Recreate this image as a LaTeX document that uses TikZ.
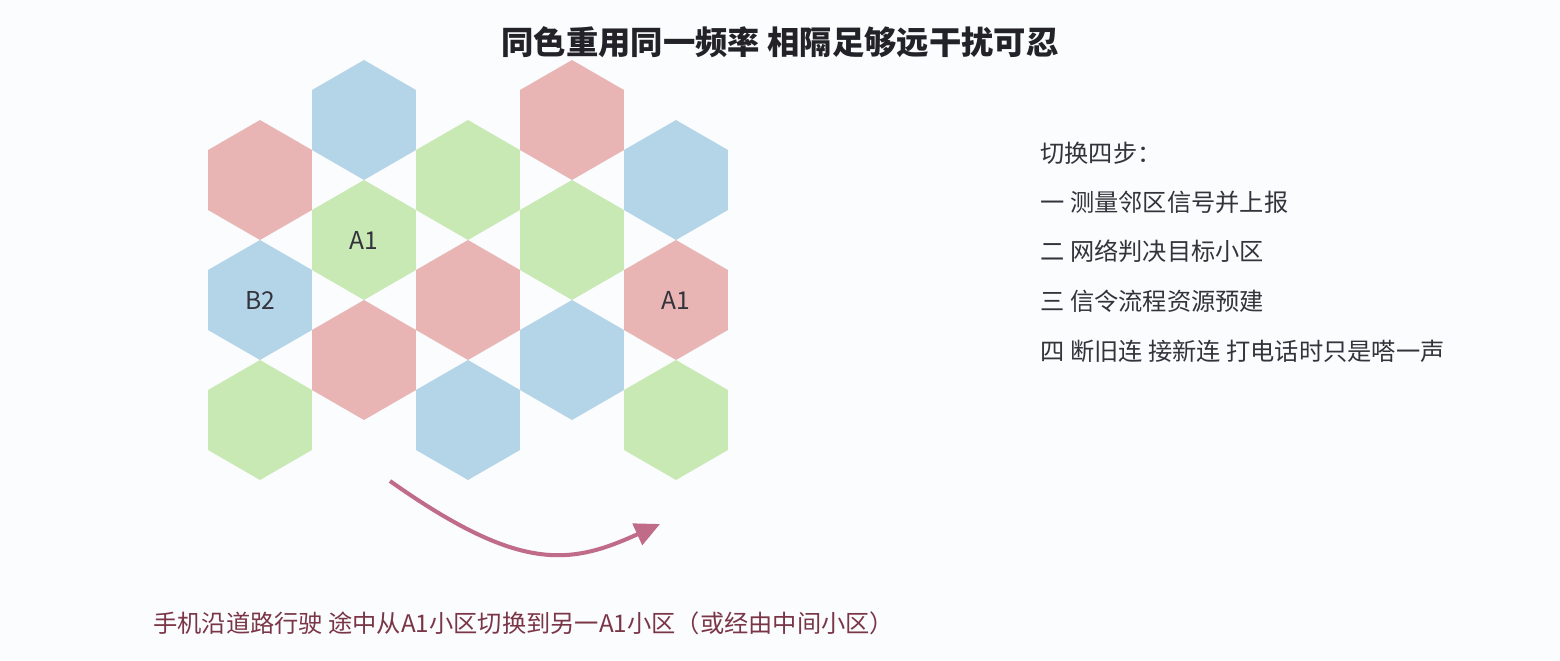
\documentclass[tikz,border=0pt]{standalone}
\usepackage{fontspec}
\setmainfont{Noto Sans CJK SC}
\usetikzlibrary{shapes.geometric,arrows.meta}
\definecolor{pageBg}{RGB}{251,252,254}
\definecolor{cellRed}{RGB}{232,180,180}
\definecolor{cellBlue}{RGB}{180,213,232}
\definecolor{cellGreen}{RGB}{201,233,180}
\definecolor{titleInk}{RGB}{34,34,40}
\definecolor{stepInk}{RGB}{51,51,60}
\definecolor{noteInk}{RGB}{122,54,70}
\definecolor{roadInk}{RGB}{192,108,136}

\begin{document}
\begin{tikzpicture}[x=0.02cm,y=-0.02cm,
  hexcell/.style={regular polygon,regular polygon sides=6,regular polygon rotate=30,
    minimum size=2.4cm,inner sep=0pt,draw=none,text=stepInk,
    font=\fontsize{14pt}{16pt}\selectfont},
  steptext/.style={anchor=west,inner sep=0pt,text=stepInk,
    font=\fontsize{13.8pt}{16pt}\selectfont}]
\fill[pageBg] (0,0) rectangle (1560,660);
\useasboundingbox (0,0) rectangle (1560,660);

% Title
\node[text=titleInk,font=\fontsize{18.4pt}{22pt}\selectfont\bfseries] (title) at (780,42) {同色重用同一频率 相隔足够远干扰可忍};

% Cells
\node[hexcell,fill=cellRed] (c11) at (260,180) {};
\node[hexcell,fill=cellBlue] (b2) at (260,300) {B2};
\node[hexcell,fill=cellGreen] (c13) at (260,420) {};
\node[hexcell,fill=cellBlue] (c21) at (364,120) {};
\node[hexcell,fill=cellGreen] (a1left) at (364,240) {A1};
\node[hexcell,fill=cellRed] (c23) at (364,360) {};
\node[hexcell,fill=cellGreen] (c31) at (468,180) {};
\node[hexcell,fill=cellRed] (c32) at (468,300) {};
\node[hexcell,fill=cellBlue] (c33) at (468,420) {};
\node[hexcell,fill=cellRed] (c41) at (572,120) {};
\node[hexcell,fill=cellGreen] (c42) at (572,240) {};
\node[hexcell,fill=cellBlue] (c43) at (572,360) {};
\node[hexcell,fill=cellBlue] (c51) at (676,180) {};
\node[hexcell,fill=cellRed] (a1right) at (676,300) {A1};
\node[hexcell,fill=cellGreen] (c53) at (676,420) {};

% Route of the phone
\coordinate (roadstart) at (390,481);
\coordinate (roadend) at (660,524);
\draw[roadInk,line width=2.3pt,-{Triangle[length=0.5cm,width=0.46cm]}] (roadstart) .. controls (520,573) and (570,565) .. (roadend);
\node[steptext,text=noteInk] (note) at (153,623) {手机沿道路行驶 途中从A1小区切换到另一A1小区（或经由中间小区）};

% Handover steps
\node[steptext] (stephead) at (1040,153) {切换四步：};
\node[steptext] (step1) at (1040,202) {一 测量邻区信号并上报};
\node[steptext] (step2) at (1040,251) {二 网络判决目标小区};
\node[steptext] (step3) at (1040,301) {三 信令流程资源预建};
\node[steptext] (step4) at (1040,351) {四 断旧连 接新连 打电话时只是嗒一声};
\end{tikzpicture}
\end{document}
